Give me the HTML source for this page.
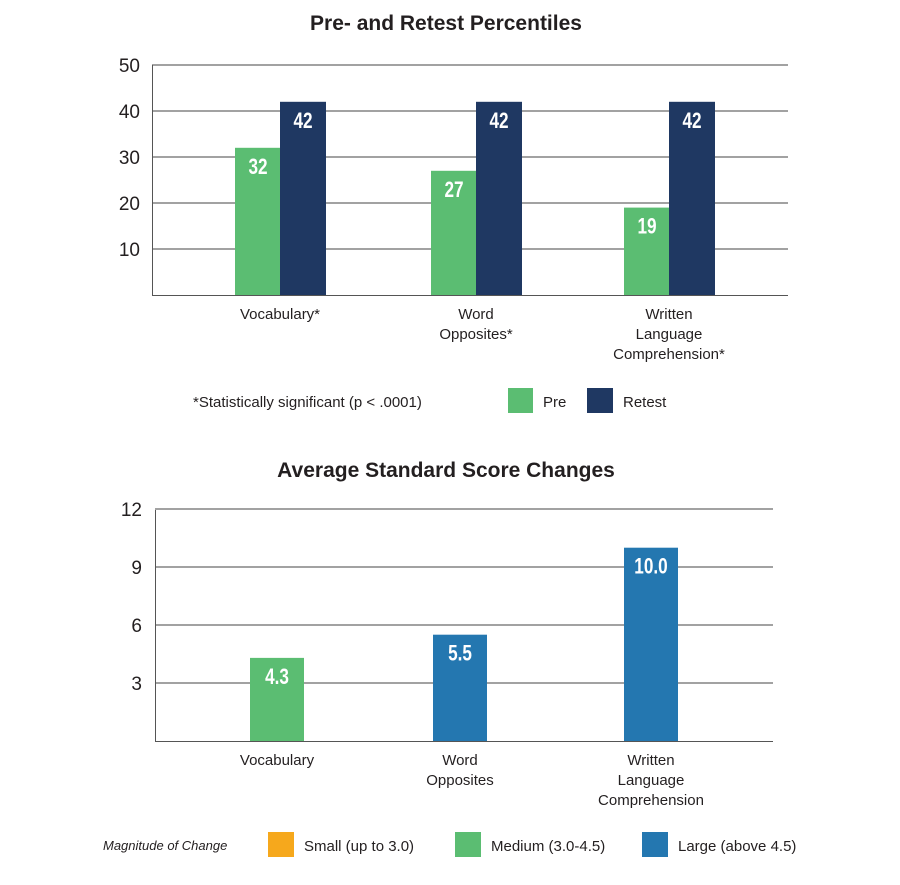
<!DOCTYPE html>
<html><head><meta charset="utf-8"><style>
body{margin:0;background:#fff;}
svg text{font-family:"Liberation Sans",sans-serif;}
</style></head><body>
<svg width="900" height="880" viewBox="0 0 900 880">
<g id="top"></g>
<g id="bot"></g>
</svg>
<script>
const topCats=[["Vocabulary*"],["Word","Opposites*"],["Written","Language","Comprehension*"]];
const preVals=[32,27,19];
const retestVals=[42,42,42];
const preLabels=["32","27","19"];
const retestLabels=["42","42","42"];
const topTicks=[10,20,30,40,50];

const botCats=[["Vocabulary"],["Word","Opposites"],["Written","Language","Comprehension"]];
const botVals=[4.3,5.5,10.0];
const botLabels=["4.3","5.5","10.0"];
const botMag=["medium","large","large"];
const botTicks=[3,6,9,12];

const NS="http://www.w3.org/2000/svg";
function el(p,t,a,txt){const e=document.createElementNS(NS,t);for(const k in a)e.setAttribute(k,a[k]);if(txt!==undefined)e.textContent=txt;p.appendChild(e);return e;}
const GREEN="#5bbd72",NAVY="#1f3862",BLUE="#2477b0",ORANGE="#f6a81c";

// TOP
const T=document.getElementById('top');
const ty=v=>295-v*4.6;
let t=el(T,'text',{x:446,y:30,'text-anchor':'middle','font-size':21,'font-weight':'bold',fill:'#231f20'},'Pre- and Retest Percentiles');

topTicks.forEach(v=>{
 let g=el(T,'line',{x1:152,x2:788,y1:ty(v),y2:ty(v),stroke:'#444','stroke-width':1});
 
 let l=el(T,'text',{x:140,y:ty(v)+7,'text-anchor':'end','font-size':19,fill:'#231f20'},v);
 
});
el(T,'line',{x1:152.5,x2:152.5,y1:65,y2:295,stroke:'#555'});
el(T,'line',{x1:152,x2:788,y1:295.5,y2:295.5,stroke:'#555'});
const tCenters=[280,476,669];
tCenters.forEach((c,i)=>{
 let b=el(T,'rect',{x:c-45,y:ty(preVals[i]),width:45,height:preVals[i]*4.6,fill:GREEN});
 
 let r=el(T,'rect',{x:c,y:ty(retestVals[i]),width:46,height:retestVals[i]*4.6,fill:NAVY});
 
 let a=el(T,'text',{x:c-22,y:ty(preVals[i])+26,'text-anchor':'middle','font-size':22,'font-weight':'bold',fill:'#fff',transform:`translate(${c-22} 0) scale(0.78 1) translate(${-(c-22)} 0)`},preLabels[i]);
 
 let bb=el(T,'text',{x:c+23,y:ty(retestVals[i])+26,'text-anchor':'middle','font-size':22,'font-weight':'bold',fill:'#fff',transform:`translate(${c+23} 0) scale(0.78 1) translate(${-(c+23)} 0)`},retestLabels[i]);
 
 topCats[i].forEach((s,j)=>{let x=el(T,'text',{x:c,y:319+j*20,'text-anchor':'middle','font-size':15,fill:'#231f20'},s);
 });
});
let n=el(T,'text',{x:193,y:407,'font-size':15,fill:'#231f20'},'*Statistically significant (p < .0001)');

let s1=el(T,'rect',{x:508,y:388,width:25,height:25,fill:GREEN});
let l1=el(T,'text',{x:543,y:407,'font-size':15,fill:'#231f20'},'Pre');
let s2=el(T,'rect',{x:587,y:388,width:26,height:25,fill:NAVY});
let l2=el(T,'text',{x:623,y:407,'font-size':15,fill:'#231f20'},'Retest');

// BOTTOM
const B=document.getElementById('bot');
const by=v=>741-v*19.33;
let t2=el(B,'text',{x:446,y:477,'text-anchor':'middle','font-size':21,'font-weight':'bold',fill:'#231f20'},'Average Standard Score Changes');

botTicks.forEach(v=>{
 let g=el(B,'line',{x1:155,x2:773,y1:by(v),y2:by(v),stroke:'#444','stroke-width':1});
 
 let l=el(B,'text',{x:142,y:by(v)+7,'text-anchor':'end','font-size':19,fill:'#231f20'},v);
 
});
el(B,'line',{x1:155.5,x2:155.5,y1:510,y2:741,stroke:'#555'});
el(B,'line',{x1:155,x2:773,y1:741.5,y2:741.5,stroke:'#555'});
const bCenters=[277,460,651];
const magColor={small:ORANGE,medium:GREEN,large:BLUE};
bCenters.forEach((c,i)=>{
 let b=el(B,'rect',{x:c-27,y:by(botVals[i]),width:54,height:botVals[i]*19.33,fill:magColor[botMag[i]]});
 
 let a=el(B,'text',{x:c,y:by(botVals[i])+26,'text-anchor':'middle','font-size':22,'font-weight':'bold',fill:'#fff',transform:`translate(${c} 0) scale(0.78 1) translate(${-c} 0)`},botLabels[i]);
 
 botCats[i].forEach((s,j)=>{let x=el(B,'text',{x:c,y:765+j*20,'text-anchor':'middle','font-size':15,fill:'#231f20'},s);
 });
});
let m=el(B,'text',{x:103,y:850,'font-size':13,'font-style':'italic',fill:'#231f20'},'Magnitude of Change');

[[268,ORANGE,'Small (up to 3.0)','small'],[455,GREEN,'Medium (3.0-4.5)','medium'],[642,BLUE,'Large (above 4.5)','large']].forEach(d=>{
 let s=el(B,'rect',{x:d[0],y:832,width:26,height:25,fill:d[1]});
 let l=el(B,'text',{x:d[0]+36,y:851,'font-size':15,fill:'#231f20'},d[2]);
});
</script>
</body></html>
